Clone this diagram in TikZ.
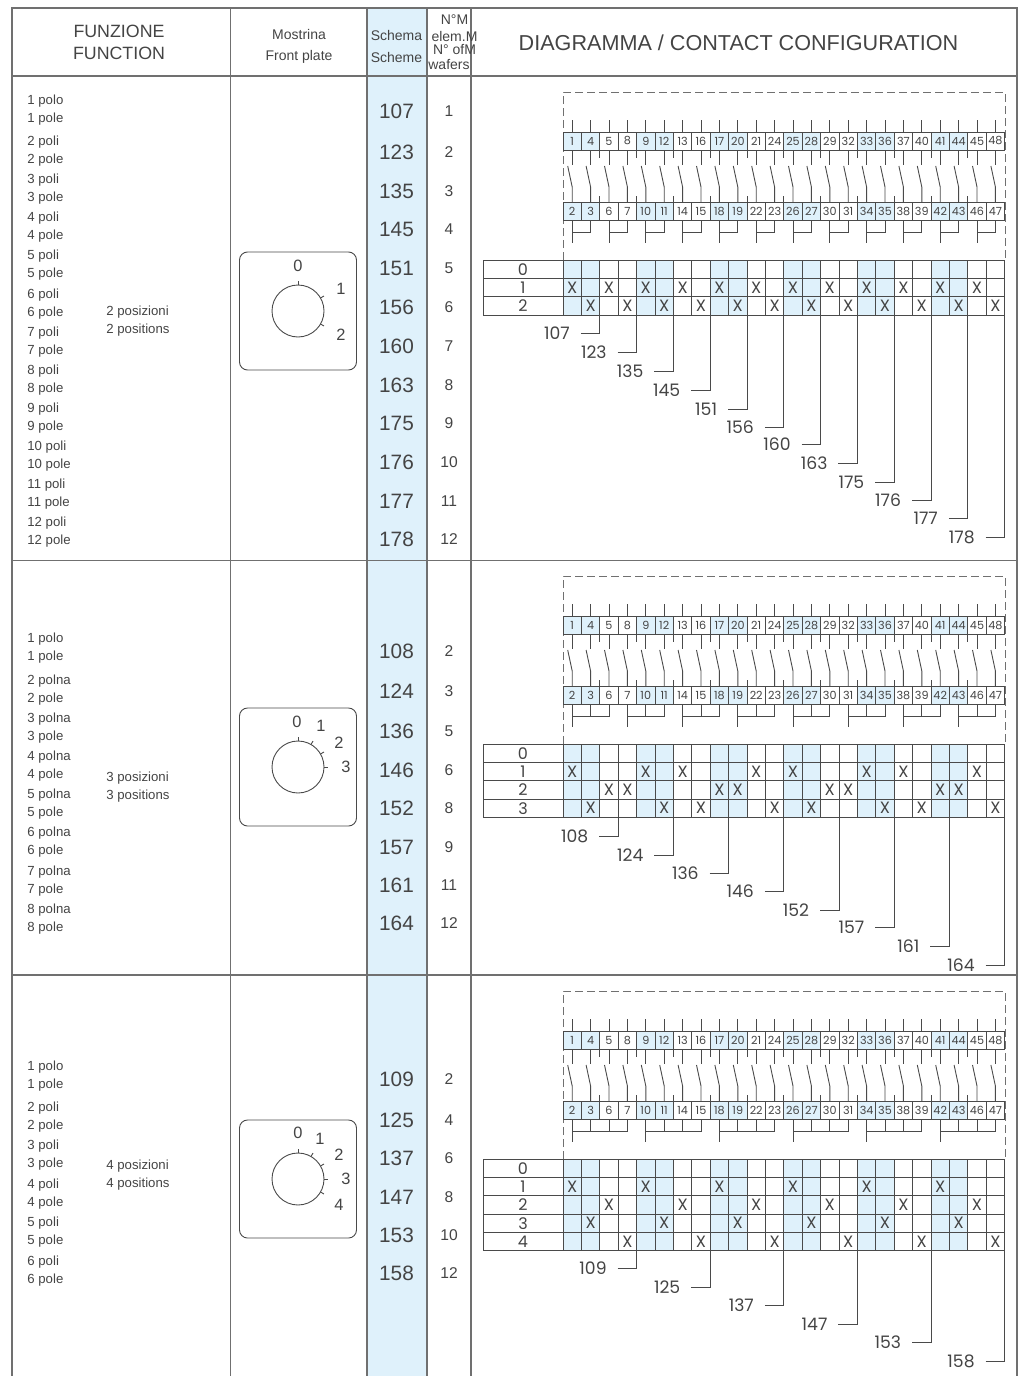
\documentclass[tikz,border=0pt]{standalone}
\usepackage{fontspec}
\setmainfont{Liberation Sans}
\newfontfamily\roundfont{Poppins}
\usepackage{xcolor}
\usepackage{tikz}
\definecolor{paleblue}{HTML}{DFF1FB}
\definecolor{inkgrey}{HTML}{444444}
\definecolor{linegrey}{HTML}{4A4A4A}
\definecolor{framegrey}{HTML}{707070}
\tikzset{
  frameline/.style={framegrey, line width=0.7pt},
  wire/.style={linegrey, line width=0.45pt},
  dashline/.style={framegrey, line width=0.5pt, dash pattern=on 4pt off 2pt},
  termbox/.style={draw=linegrey, line width=0.45pt, minimum width=9.2pt, minimum height=9pt, inner sep=0pt, outer sep=0pt, text=inkgrey, font=\roundfont\fontsize{5.6}{6}\selectfont},
  rowlabel/.style={text=inkgrey, inner sep=0pt, font=\roundfont\fontsize{8}{9}\selectfont},
  crossmark/.style={text=inkgrey, inner sep=0pt, font=\roundfont\fontsize{8.2}{9}\selectfont},
  leadnum/.style={anchor=east, text=inkgrey, inner ysep=0pt, inner xsep=5.5pt, outer sep=0pt, font=\roundfont\fontsize{8.6}{10}\selectfont},
  smalltxt/.style={anchor=west, text=inkgrey, inner sep=0pt, yshift=0.7pt, text height=1.5ex, text depth=0.35ex, font=\fontsize{6.6}{8}\selectfont},
  headtxt/.style={text=inkgrey, inner sep=0pt, font=\fontsize{7}{8}\selectfont},
  bigtxt/.style={text=inkgrey, inner sep=0pt, font=\fontsize{8.9}{10}\selectfont},
  schemenum/.style={text=inkgrey, inner sep=0pt, font=\fontsize{10.4}{12}\selectfont},
  wafernum/.style={text=inkgrey, inner sep=0pt, font=\fontsize{7.8}{9}\selectfont},
  dialnum/.style={text=inkgrey, inner sep=0pt, font=\fontsize{8.2}{9}\selectfont},
}
\newcommand{\wiring}[1]{
  \draw[dashline] (563,260)--(563,92)--(1005,92)--(1005,260);
  \foreach \c [evaluate=\c as \xc using 563+18.4*(\c-0.5), evaluate=\c as \na using {int(2*\c-mod(\c,2))}, evaluate=\c as \nb using {int(2*\c-mod(\c+1,2))}, evaluate=\c as \bl using {int(mod(\c-1,4))}, evaluate=\c as \gr using {int(mod(\c-1,#1))}] in {1,...,24} {
    \ifnum\bl<2 \def\cellfill{paleblue}\else\def\cellfill{white}\fi
    \node[termbox, fill=\cellfill] (up\na) at (\xc,141) {\na};
    \node[termbox, fill=\cellfill] (low\nb) at (\xc,211) {\nb};
    \draw[wire] (up\na.north) -- ++(0,-12);
    \draw[wire] (up\na.south) -- ++(0,15);
    \draw[wire] (\xc-4.5,166) -- (\xc,187) -- (low\nb.north);
    \ifnum\gr=0
      \draw[wire] (low\nb.south) -- ++(0,23);
    \else
      \draw[wire] (low\nb.south) -- ++(0,12) -- ++(-18.4,0);
    \fi
  }
  \foreach \c [evaluate=\c as \xe using 563+18.4*\c] in {2,4,...,22} {
    \draw[wire] (\xe,150) -- ++(0,8);
    \draw[wire] (\xe,202) -- ++(0,-6);
  }
}
\newcommand{\contacttable}[2]{
  \pgfmathsetmacro\tabbot{260+18.35*(#1+1)}
  \foreach \c [evaluate=\c as \xe using 563+18.4*(\c-1)] in {1,2,5,6,9,10,13,14,17,18,21,22}
    \fill[paleblue] (\xe,260) rectangle (\xe+18.4,\tabbot);
  \foreach \r [evaluate=\r as \yr using 260+18.35*\r] in {0,...,#1}
    \node[rowlabel] (row\r) at (523,\yr+9.2) {\r};
  \foreach \r [evaluate=\r as \yr using 260+18.35*\r] in {0,...,#1}
    \draw[wire] (483,\yr) -- (1005,\yr);
  \draw[wire] (483,\tabbot) -- (1005,\tabbot);
  \draw[wire] (483,260) -- (483,\tabbot);
  \foreach \c [evaluate=\c as \xe using 563+18.4*\c] in {0,...,24}
    \draw[wire] (\xe,260) -- (\xe,\tabbot);
  \foreach \c/\r in {#2}
    \node[crossmark] at ({563+18.4*(\c-0.5)},{260+18.35*(\r+0.5)}) {X};
}
\newcommand{\dial}[2]{
  \draw[wire, rounded corners=4pt] (239.5,#1-59) rectangle (356.5,#1+59);
  \node[circle, draw=linegrey, line width=0.45pt, minimum size=26pt, inner sep=0pt, outer sep=0pt] (knob#1) at (298,#1) {};
  \foreach \a in {#2}
    \draw[wire] (knob#1.center) ++(-\a:26) -- ++(-\a:4);
}
\begin{document}
\begin{tikzpicture}[x=0.5pt, y=-0.5pt]
  \useasboundingbox (0,0) rectangle (1018,1376);
  \fill[paleblue] (367,8) rectangle (427,1376);
  \draw[frameline] (12,1376) -- (12,8) -- (1017,8) -- (1017,1376);
  \foreach \yy in {76,560.5,975}
    \draw[frameline] (12,\yy) -- (1017,\yy);
  \foreach \xx in {230.5,367,427,471}
    \draw[frameline] (\xx,8) -- (\xx,1376);

  \node[bigtxt] (funz) at (119,31) {FUNZIONE};
  \node[bigtxt] (func) at (119,53) {FUNCTION};
  \node[headtxt] (most) at (299,34) {Mostrina};
  \node[headtxt] (front) at (299,57) {Front plate};
  \node[headtxt] (schema) at (396.5,35) {Schema};
  \node[headtxt] (scheme) at (396.5,57) {Scheme};
  \node[headtxt] (wa) at (454.5,20) {N°M};
  \node[headtxt] (wb) at (454.5,36) {elem.M};
  \node[headtxt] (wc) at (454.5,50) {N° ofM};
  \node[headtxt] (wd) at (449,65) {wafers};
  \node[text=inkgrey, inner sep=0pt, font=\fontsize{10.8}{12}\selectfont] (diag) at (738.5,43) {DIAGRAMMA / CONTACT CONFIGURATION};

  \foreach \aa/\bb/\ya in {1 polo/1 pole/100, 2 poli/2 pole/141, 3 poli/3 pole/179, 4 poli/4 pole/217, 5 poli/5 pole/255, 6 poli/6 pole/294, 7 poli/7 pole/332, 8 poli/8 pole/370, 9 poli/9 pole/408, 10 poli/10 pole/446, 11 poli/11 pole/484, 12 poli/12 pole/522,
    1 polo/1 pole/638, 2 polna/2 pole/680, 3 polna/3 pole/718, 4 polna/4 pole/756, 5 polna/5 pole/794, 6 polna/6 pole/832, 7 polna/7 pole/871, 8 polna/8 pole/909,
    1 polo/1 pole/1066, 2 poli/2 pole/1107, 3 poli/3 pole/1145, 4 poli/4 pole/1184, 5 poli/5 pole/1222, 6 poli/6 pole/1261} {
    \node[smalltxt] (pa\ya) at (27,\ya) {\aa};
    \node[smalltxt] (pb\ya) at (27,\ya+18) {\bb};
  }
  \foreach \aa/\bb/\ya in {2 posizioni/2 positions/311, 3 posizioni/3 positions/777, 4 posizioni/4 positions/1165} {
    \node[smalltxt] (qa\ya) at (106,\ya) {\aa};
    \node[smalltxt] (qb\ya) at (106,\ya+18) {\bb};
  }

  \foreach \n/\w/\yy in {107/1/111, 123/2/152, 135/3/191, 145/4/229, 151/5/268, 156/6/307, 160/7/346, 163/8/385, 175/9/423, 176/10/462, 177/11/501, 178/12/539,
    108/2/651, 124/3/691, 136/5/731, 146/6/770, 152/8/808, 157/9/847, 161/11/885, 164/12/923,
    109/2/1079, 125/4/1120, 137/6/1158, 147/8/1197, 153/10/1235, 158/12/1273} {
    \node[schemenum] (sch\n) at (396.5,\yy) {\n};
    \node[wafernum] (waf\n) at (449,\yy) {\w};
  }

  \dial{311}{90,30,-30}
  \foreach \lab/\lx/\ly in {0/298/266, 1/341/289, 2/341/335}
    \node[dialnum] (dia\lab) at (\lx,\ly) {\lab};
  \dial{767}{90,60,30,0}
  \foreach \lab/\lx/\ly in {0/297/722, 1/321/726, 2/339/743, 3/346/767}
    \node[dialnum] (dib\lab) at (\lx,\ly) {\lab};
  \dial{1179}{90,60,30,0,-30}
  \foreach \lab/\lx/\ly in {0/298/1133, 1/320/1139, 2/339/1155, 3/346/1179, 4/339/1205}
    \node[dialnum] (dic\lab) at (\lx,\ly) {\lab};

  \begin{scope}
    \wiring{2}
    \contacttable{2}{1/1,2/2,3/1,4/2,5/1,6/2,7/1,8/2,9/1,10/2,11/1,12/2,13/1,14/2,15/1,16/2,17/1,18/2,19/1,20/2,21/1,22/2,23/1,24/2}
    \foreach \n/\c/\yy in {107/2/333, 123/4/352, 135/6/371, 145/8/390, 151/10/409, 156/12/427, 160/14/444, 163/16/463, 175/18/482, 176/20/500, 177/22/518, 178/24/537} {
      \node[leadnum] (lead\n) at ({563+18.4*\c-19},\yy) {\n};
      \draw[wire] (lead\n.east) -| ({563+18.4*\c},\tabbot);
    }
  \end{scope}

  \begin{scope}[shift={(0,484)}]
    \wiring{3}
    \contacttable{3}{1/1,5/1,7/1,11/1,13/1,17/1,19/1,23/1,3/2,4/2,9/2,10/2,15/2,16/2,21/2,22/2,2/3,6/3,8/3,12/3,14/3,18/3,20/3,24/3}
    \foreach \n/\c/\yy in {108/3/352, 124/6/371, 136/9/389, 146/12/407, 152/15/426, 157/18/443, 161/21/462, 164/24/481} {
      \node[leadnum] (lead\n) at ({563+18.4*\c-19},\yy) {\n};
      \draw[wire] (lead\n.east) -| ({563+18.4*\c},\tabbot);
    }
  \end{scope}

  \begin{scope}[shift={(0,899)}]
    \wiring{4}
    \contacttable{4}{1/1,5/1,9/1,13/1,17/1,21/1,3/2,7/2,11/2,15/2,19/2,23/2,2/3,6/3,10/3,14/3,18/3,22/3,4/4,8/4,12/4,16/4,20/4,24/4}
    \foreach \n/\c/\yy in {109/4/369, 125/8/388, 137/12/406, 147/16/425, 153/20/443, 158/24/462} {
      \node[leadnum] (lead\n) at ({563+18.4*\c-19},\yy) {\n};
      \draw[wire] (lead\n.east) -| ({563+18.4*\c},\tabbot);
    }
  \end{scope}
\end{tikzpicture}
\end{document}
